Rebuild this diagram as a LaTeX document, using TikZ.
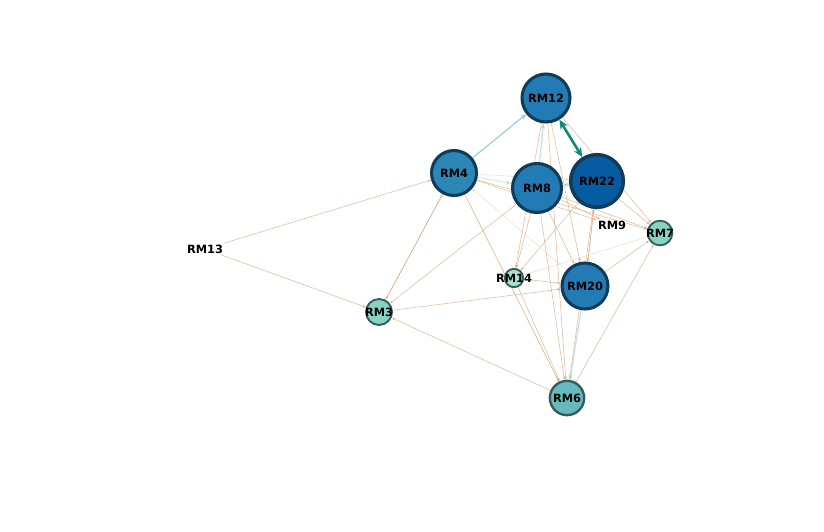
\documentclass[tikz,border=0pt]{standalone}
\usepackage{fontspec}
\setmainfont{DejaVu Sans}
\usetikzlibrary{arrows.meta}

\pgfdeclarelayer{background}
\pgfsetlayers{background,main}

\definecolor{edgetan}{RGB}{214,174,134}
\definecolor{edgeteal}{RGB}{150,210,198}
\definecolor{edgedark}{RGB}{16,138,116}
\definecolor{bluefill}{RGB}{34,123,180}
\definecolor{bluelight}{RGB}{44,134,182}
\definecolor{bluedark}{RGB}{6,92,160}
\definecolor{blueline}{RGB}{16,60,90}
\definecolor{tealfill}{RGB}{136,210,196}
\definecolor{tealpale}{RGB}{170,222,206}
\definecolor{tealmid}{RGB}{102,186,190}
\definecolor{tealline}{RGB}{52,92,92}

\tikzset{
  labfont/.style={font=\fontsize{9.7}{11}\selectfont\bfseries, inner sep=0pt},
  rm/.style={circle, inner sep=0pt, label={[labfont]center:#1}},
  bignode/.style={rm=#1, fill=bluefill, draw=blueline, line width=2.6pt},
  smallnode/.style={rm=#1, fill=tealfill, draw=tealline, line width=1.6pt},
  plainnode/.style={labfont, inner sep=1pt},
  tanedge/.style={edgetan, line width=0.45pt, opacity=0.85, -{Stealth[length=3pt,width=2.2pt]}},
  faintedge/.style={tanedge, opacity=0.4},
  tealedge/.style={edgeteal, line width=1pt, -{Stealth[length=5pt,width=4pt]}},
  darkedge/.style={edgedark, line width=2.2pt, {Stealth[length=8pt,width=7pt]}-{Stealth[length=8pt,width=7pt]}}
}

\begin{document}
\begin{tikzpicture}[x=0.03cm, y=-0.03cm]
    % Fix the canvas
    \useasboundingbox (0,0) rectangle (824,531);

    % Define the nodes
    \node[bignode=RM12, minimum size=1.44cm] (RM12) at (546,98) {};
    \node[bignode=RM4, fill=bluelight, minimum size=1.35cm] (RM4) at (454,173) {};
    \node[bignode=RM8, minimum size=1.47cm] (RM8) at (537,188) {};
    \node[bignode=RM22, fill=bluedark, line width=3pt, minimum size=1.58cm] (RM22) at (597,181) {};
    \node[bignode=RM20, minimum size=1.38cm] (RM20) at (585,286) {};
    \node[smallnode=RM7, minimum size=0.74cm] (RM7) at (660,233) {};
    \node[smallnode=RM14, fill=tealpale, minimum size=0.55cm] (RM14) at (514,278) {};
    \node[smallnode=RM3, minimum size=0.78cm] (RM3) at (379,312) {};
    \node[smallnode=RM6, fill=tealmid, line width=2pt, minimum size=1.03cm] (RM6) at (567,398) {};
    \node[plainnode] (RM9) at (612,225) {RM9};
    \node[plainnode] (RM13) at (205,249) {RM13};

    \begin{pgfonlayer}{background}
    % Draw the thin edges
    \draw[tanedge] (RM13) -- (RM4);
    \draw[tanedge] (RM13) -- (RM3);
    \draw[tanedge] (RM3) -- (RM4);
    \draw[tanedge] (RM4) -- (RM3);
    \draw[tanedge] (RM8) -- (RM3);
    \draw[tanedge] (RM3) -- (RM20);
    \draw[tanedge] (RM6) -- (RM3);
    \draw[tanedge] (RM4) -- (RM6);
    \draw[faintedge] (RM4) -- (RM6);
    \draw[faintedge] (RM20) -- (RM4);
    \draw[tanedge] (RM4) -- (RM7);
    \draw[tanedge] (RM4) -- (RM9);
    \draw[faintedge] (RM4) -- (RM22);
    \draw[tanedge] (RM8) -- (RM14);
    \draw[tanedge] (RM8) -- (RM20);
    \draw[tanedge] (RM8) -- (RM6);
    \draw[tanedge] (RM8) -- (RM7);
    \draw[tanedge] (RM8) -- (RM9);
    \draw[tanedge] (RM22) -- (RM14);
    \draw[tanedge] (RM22) -- (RM20);
    \draw[tanedge] (RM20) -- (RM22);
    \draw[tanedge] (RM22) -- (RM7);
    \draw[tanedge] (RM22) -- (RM6);
    \draw[tanedge] (RM12) -- (RM14);
    \draw[tanedge] (RM12) -- (RM20);
    \draw[tanedge] (RM12) -- (RM6);
    \draw[tanedge] (RM12) -- (RM7);
    \draw[tanedge] (RM20) -- (RM7);
    \draw[tanedge] (RM6) -- (RM7);
    \draw[tanedge] (RM14) -- (RM20);
    \draw[tanedge] (RM14) -- (RM6);
    \draw[faintedge] (RM7) -- (RM14);

    % Draw the strong edges
    \draw[tealedge] (RM4) -- (RM12);
    \draw[tealedge, opacity=0.6] (RM8) -- (RM12);
    \draw[tealedge, opacity=0.6] (RM22) -- (RM8);
    \draw[tealedge, opacity=0.4] (RM4) -- (RM8);
    \draw[tealedge, opacity=0.6] (RM20) -- (RM6);
    \draw[darkedge] (RM12) -- (RM22);
    \end{pgfonlayer}
\end{tikzpicture}
\end{document}
